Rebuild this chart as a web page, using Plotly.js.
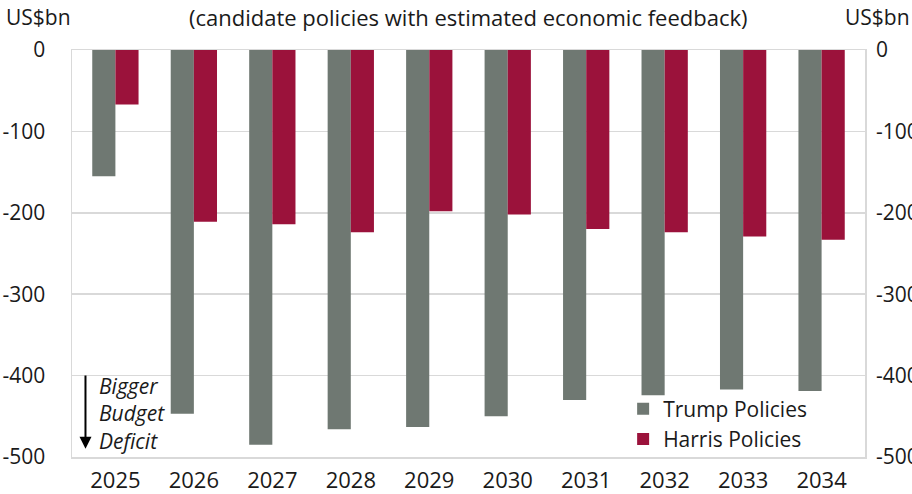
<!DOCTYPE html>
<html>
<head>
<meta charset="utf-8">
<script src="https://cdn.plot.ly/plotly-3.0.1.min.js"></script>
<style>html,body{margin:0;padding:0;background:#fff;}#chart{width:912px;height:494px;}</style>
</head>
<body>
<div id="chart"></div>
<script>
const years = ['2025','2026','2027','2028','2029','2030','2031','2032','2033','2034'];
const trumpValues = [-155, -447, -485, -466, -463, -450, -430, -424, -417, -419];
const harrisValues = [-67, -211, -214, -224, -198, -202, -220, -224, -229, -233];
const yTicks = [0, -100, -200, -300, -400, -500];
const yTickLabels = ['0', '-100', '-200', '-300', '-400', '-500'];

const FONT = '"Open Sans", "Noto Sans", sans-serif';
const FS = 21;
const GRID = '#d9d9d9';
const TXT = '#1a1a1a';

const traces = [
  {type:'bar', name:'Trump Policies', x:years, y:trumpValues,
   marker:{color:'#6f7872'}, hoverinfo:'skip'},
  {type:'bar', name:'Harris Policies', x:years, y:harrisValues,
   marker:{color:'#9b123b'}, hoverinfo:'skip'},
  {type:'scatter', mode:'markers', x:years, y:harrisValues, yaxis:'y2',
   marker:{opacity:0}, showlegend:false, hoverinfo:'skip'}
];

const layout = {
  width:912, height:494,
  margin:{l:72, r:47, t:50, b:37},
  paper_bgcolor:'#fff', plot_bgcolor:'#fff',
  font:{family:FONT, size:FS, color:TXT},
  barmode:'group', bargap:0.41, bargroupgap:0,
  showlegend:true,
  legend:{x:0.695, y:0.168, xanchor:'left', yanchor:'top', bgcolor:'rgba(0,0,0,0)',
          font:{family:FONT, size:FS, color:TXT}, tracegroupgap:0, itemwidth:30},
  xaxis:{type:'category', showgrid:false, showline:true, mirror:true, linecolor:GRID, linewidth:1.5,
         ticks:'', tickfont:{family:FONT, size:22}, ticklabelstandoff:3, fixedrange:true},
  yaxis:{range:[-500, 0], tickvals:yTicks, ticktext:yTickLabels, showgrid:true, gridcolor:GRID, gridwidth:1.5,
         showline:true, mirror:true, linecolor:GRID, linewidth:1.5, zeroline:false,
         ticks:'', ticklabelstandoff:21, tickfont:{family:FONT, size:FS}, automargin:false},
  yaxis2:{range:[-500, 0], overlaying:'y', side:'right', tickvals:yTicks, ticktext:yTickLabels,
          showgrid:false, zeroline:false, showline:false, ticks:'', ticklabelstandoff:10,
          tickfont:{family:FONT, size:FS}, automargin:false},
  annotations:[
    {xref:'paper', yref:'paper', x:0.5, y:1, yshift:33, text:'(candidate policies with estimated economic feedback)',
     showarrow:false, xanchor:'center', yanchor:'middle', font:{family:FONT, size:22, color:TXT}},
    {xref:'paper', yref:'paper', x:0, y:1, xshift:-34, yshift:33, text:'US$bn',
     showarrow:false, xanchor:'center', yanchor:'middle', font:{family:FONT, size:FS, color:TXT}},
    {xref:'paper', yref:'paper', x:1, y:1, xshift:47, yshift:33, text:'US$bn',
     showarrow:false, xanchor:'right', yanchor:'middle', font:{family:FONT, size:FS, color:TXT}},
    {xref:'paper', yref:'y', x:0.017, y:-490, ax:0.017, ay:-398, axref:'paper', ayref:'y',
     showarrow:true, arrowhead:2, arrowsize:1.2, arrowwidth:2, arrowcolor:'#000', text:''},
    {xref:'paper', yref:'y', x:0.032, y:-446, text:'<i>Bigger<br>Budget<br>Deficit</i>',
     showarrow:false, xanchor:'left', yanchor:'middle', align:'left',
     font:{family:FONT, size:FS, color:TXT}}
  ]
};

Plotly.newPlot('chart', traces, layout, {displayModeBar:false, staticPlot:true});
</script>
</body>
</html>
